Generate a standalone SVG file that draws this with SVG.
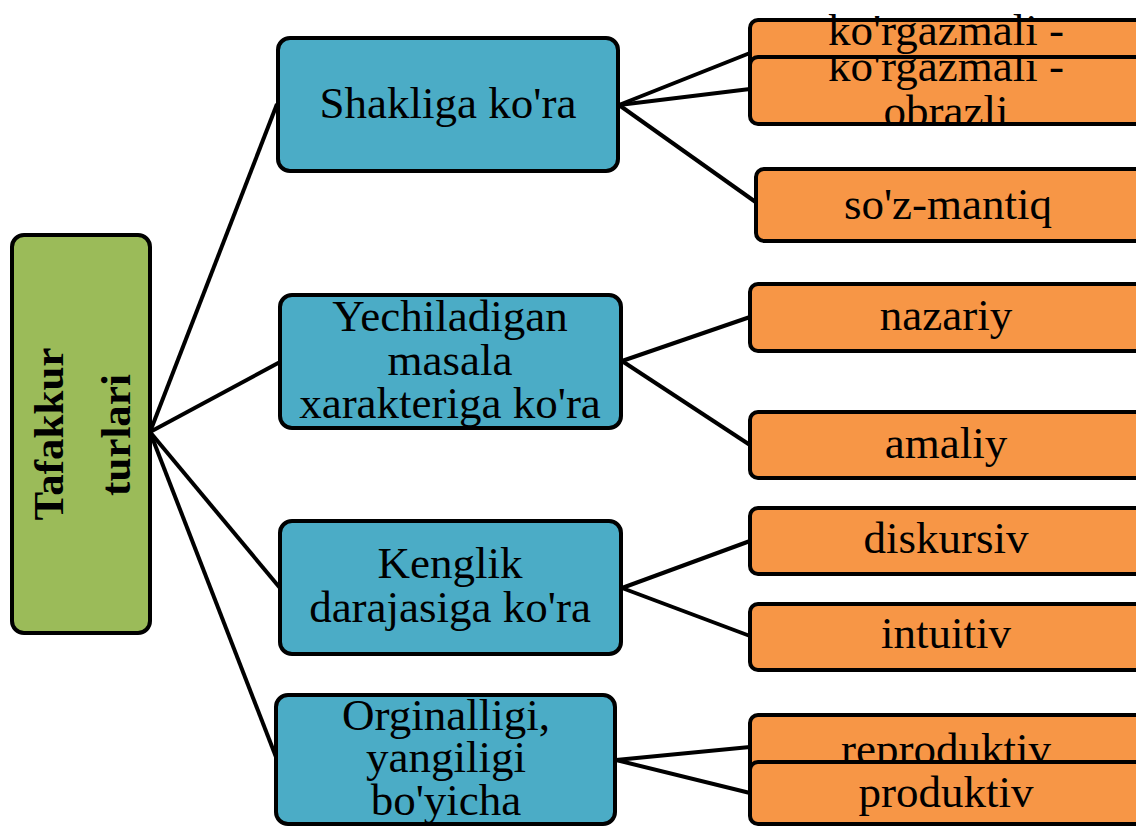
<svg xmlns="http://www.w3.org/2000/svg" width="1136" height="826" viewBox="0 0 1136 826">
<style>
.box{stroke:#000;stroke-width:4}
.root{fill:#9BBB59}
.mid{fill:#4BACC6}
.leaf{fill:#F79646}
.t{font-family:"Liberation Serif","Times New Roman",serif;font-size:45px;fill:#000;text-anchor:middle}
.rt{font-family:"Liberation Serif","Times New Roman",serif;font-size:43px;font-weight:bold;fill:#000;text-anchor:middle}
.c{stroke:#000;stroke-width:4;fill:none}
</style>
<defs>
<clipPath id="clipO2"><rect x="752" y="59" width="400" height="63"/></clipPath>
</defs>
<rect width="1136" height="826" fill="#fff"/>
<g id="connectors">
<line class="c" x1="150" y1="432" x2="277" y2="104"/>
<line class="c" x1="150" y1="432" x2="280" y2="362"/>
<line class="c" x1="150" y1="432" x2="280" y2="588"/>
<line class="c" x1="150" y1="432" x2="276" y2="757"/>
<line class="c" x1="619" y1="105" x2="750" y2="53"/>
<line class="c" x1="619" y1="105" x2="750" y2="89"/>
<line class="c" x1="619" y1="105" x2="757" y2="203"/>
<line class="c" x1="622" y1="361" x2="750" y2="317"/>
<line class="c" x1="622" y1="361" x2="750" y2="445"/>
<line class="c" x1="622" y1="588" x2="750" y2="541"/>
<line class="c" x1="622" y1="588" x2="750" y2="636"/>
<line class="c" x1="616" y1="760" x2="750" y2="747"/>
<line class="c" x1="616" y1="760" x2="750" y2="793"/>
</g>
<g id="root">
<rect class="box root" x="12" y="235" width="138" height="398" rx="12"/>
<text class="rt" transform="translate(63,434) rotate(-90)">Tafakkur</text>
<text class="rt" transform="translate(130,435) rotate(-90)">turlari</text>
</g>
<g id="n1">
<rect class="box mid" x="278" y="38" width="340" height="133" rx="12"/>
<text class="t" x="448" y="118">Shakliga ko'ra</text>
</g>
<g id="n2">
<rect class="box mid" x="280" y="295" width="341" height="133" rx="12"/>
<text class="t" x="450" y="331">Yechiladigan</text>
<text class="t" x="450" y="375">masala</text>
<text class="t" x="450" y="418">xarakteriga ko'ra</text>
</g>
<g id="n3">
<rect class="box mid" x="280" y="521" width="341" height="133" rx="12"/>
<text class="t" x="450" y="578">Kenglik</text>
<text class="t" x="450" y="622">darajasiga ko'ra</text>
</g>
<g id="n4">
<rect class="box mid" x="276" y="695" width="339" height="129" rx="12"/>
<text class="t" x="446" y="730">Orginalligi,</text>
<text class="t" x="446" y="772">yangiligi</text>
<text class="t" x="446" y="815">bo'yicha</text>
</g>
<g id="o1">
<rect class="box leaf" x="750" y="20" width="400" height="67" rx="8"/>
<text class="t" x="946" y="45">ko'rgazmali -</text>
</g>
<g id="o2">
<rect class="box leaf" x="750" y="57" width="400" height="67" rx="8"/>
<g clip-path="url(#clipO2)">
<text class="t" x="946" y="81">ko'rgazmali -</text>
<text class="t" x="946" y="126">obrazli</text>
</g>
</g>
<g id="o3">
<rect class="box leaf" x="756" y="169" width="400" height="72" rx="8"/>
<text class="t" x="948" y="219">so'z-mantiq</text>
</g>
<g id="o4">
<rect class="box leaf" x="750" y="284" width="400" height="67" rx="8"/>
<text class="t" x="946" y="330">nazariy</text>
</g>
<g id="o5">
<rect class="box leaf" x="750" y="412" width="400" height="66" rx="8"/>
<text class="t" x="946" y="458">amaliy</text>
</g>
<g id="o6">
<rect class="box leaf" x="750" y="508" width="400" height="66" rx="8"/>
<text class="t" x="946" y="553">diskursiv</text>
</g>
<g id="o7">
<rect class="box leaf" x="750" y="604" width="400" height="66" rx="8"/>
<text class="t" x="946" y="648">intuitiv</text>
</g>
<g id="o8">
<rect class="box leaf" x="750" y="715" width="400" height="67" rx="8"/>
<text class="t" x="946" y="764">reproduktiv</text>
</g>
<g id="o9">
<rect class="box leaf" x="750" y="762" width="400" height="62" rx="8"/>
<text class="t" x="946" y="807">produktiv</text>
</g>
</svg>
